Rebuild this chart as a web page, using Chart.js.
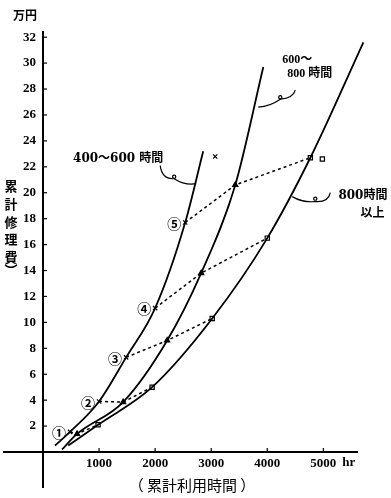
<!DOCTYPE html>
<html><head><meta charset="utf-8">
<script src="https://cdn.jsdelivr.net/npm/chart.js@4.4.1/dist/chart.umd.min.js"></script>
<style>html,body{margin:0;padding:0;background:#fff}</style>
</head><body>
<canvas id="c" width="391" height="498"></canvas>
<script>
// ---- data (hours, 万円) ----
const xTicks = [1000, 2000, 3000, 4000, 5000];
const yTicks = [2, 4, 6, 8, 10, 12, 14, 16, 18, 20, 22, 24, 26, 28, 30, 32];

const curveA_hours = [214, 482, 1000, 1482, 2000, 2536, 2857];      // 400〜600 時間
const curveA_cost  = [0.5, 1.55, 3.9, 7.3, 11.1, 17.7, 23.2];
const curveB_hours = [340, 607, 1429, 2214, 2821, 3429, 3929];       // 600〜800 時間
const curveB_cost  = [0.2, 1.4, 3.85, 8.6, 13.8, 20.6, 29.7];
const curveC_hours = [450, 982, 1946, 3018, 4000, 4768, 5714];       // 800 時間以上
const curveC_cost  = [0.5, 2.1, 5.0, 10.3, 16.5, 22.7, 31.6];

// connector lines ①〜⑤ : points on curve A, B, C
const connLabels = ['①', '②', '③', '④', '⑤'];
const connHours = [[482, 607, 982], [1000, 1429, 1946], [1482, 2214, 3018], [2000, 2821, 4000], [2536, 3429, 4768]];
const connCost  = [[1.55, 1.4, 2.1], [3.9, 3.85, 5.0], [7.3, 8.6, 10.3], [11.1, 13.8, 16.5], [17.7, 20.6, 22.7]];

// key markers (x for 400〜600, □ for 800以上)
const keyHours = [3071, 4982];
const keyCost  = [22.8, 22.6];

const pts = (xs, ys) => xs.map((x, i) => ({x, y: ys[i]}));

const datasets = [];
[[curveA_hours, curveA_cost], [curveB_hours, curveB_cost], [curveC_hours, curveC_cost]].forEach(([h, c]) => {
  datasets.push({data: pts(h, c), borderColor: '#000', borderWidth: 1.8, pointRadius: 0,
    cubicInterpolationMode: 'monotone', clip: false, fill: false});
});
connHours.forEach((h, i) => {
  datasets.push({data: pts(h, connCost[i]), borderColor: '#000', borderWidth: 1.5, borderDash: [3, 3],
    pointRadius: 3, pointStyle: ['crossRot', 'triangle', 'rect'], pointBorderColor: '#000',
    pointBackgroundColor: ['#000', '#000', '#fff'], pointBorderWidth: 1.2, clip: false, fill: false, tension: 0});
});
datasets.push({data: pts(keyHours, keyCost), showLine: false, pointRadius: 3,
  pointStyle: ['crossRot', 'rect'], pointBorderColor: '#000', pointBackgroundColor: '#fff', pointBorderWidth: 1.2, clip: false});

const tickFont = {family: '"Liberation Serif", serif', weight: 'bold', size: 13};

const deco = {
  id: 'deco',
  afterDraw(chart) {
    const {ctx, scales: {x, y}} = chart;
    const X = v => x.getPixelForValue(v), Y = v => y.getPixelForValue(v);
    ctx.save();
    ctx.strokeStyle = '#000'; ctx.fillStyle = '#000';
    // axis extensions
    ctx.lineWidth = 2;
    ctx.beginPath(); ctx.moveTo(3, Y(0)); ctx.lineTo(X(0), Y(0)); ctx.stroke();
    ctx.beginPath(); ctx.moveTo(X(0), Y(0)); ctx.lineTo(X(0), 488); ctx.stroke();
    // tick marks (inward)
    ctx.lineWidth = 1.2;
    yTicks.forEach(v => { ctx.beginPath(); ctx.moveTo(X(0), Y(v)); ctx.lineTo(X(0) + 4, Y(v)); ctx.stroke(); });
    xTicks.forEach(v => { ctx.beginPath(); ctx.moveTo(X(v), Y(0)); ctx.lineTo(X(v), Y(0) - 4); ctx.stroke(); });
    // hr unit
    ctx.font = 'bold 13px "Liberation Serif"'; ctx.textBaseline = 'middle'; ctx.textAlign = 'left';
    ctx.fillText('hr', X(5000) + 19, Y(0) + 11);
    // titles
    ctx.font = 'bold 12px "Noto Sans CJK JP"'; ctx.textAlign = 'center';
    ctx.fillText('万円', 25, 15);
    const vt = ['累', '計', '修', '理', '費'];
    ctx.font = 'bold 13px "Noto Sans CJK JP"';
    vt.forEach((ch, i) => ctx.fillText(ch, 11, 186 + i * 17.8));
    ctx.fillText('︶', 11, 270);
    ctx.font = '15px "Noto Sans CJK JP"';
    ctx.fillText('（ 累計利用時間 ）', 192, 485);
    // circled numbers
    ctx.font = 'bold 14px "Noto Sans CJK JP"'; ctx.textAlign = 'center';
    connLabels.forEach((s, i) => ctx.fillText(s, X(connHours[i][0]) - 11, Y(connCost[i][0]) + 1));
    // curve labels
    ctx.textAlign = 'left';
    ctx.font = 'bold 12px "DejaVu Serif", "Noto Sans CJK JP"';
    ctx.fillText('400〜600 時間', X(536), Y(22.6));
    ctx.fillText('800時間', X(5268), Y(19.75));
    ctx.fillText('以上', X(5661), Y(18.4));
    ctx.font = 'bold 12px "Liberation Serif", "Noto Sans CJK JP"';
    ctx.fillText('600〜', X(4268), Y(30.25));
    ctx.fillText('800 時間', X(4357), Y(29.2));
    // leaders
    ctx.lineWidth = 1.2;
    const leader = (ax, ay, segs, hook) => {
      const bx = X(ax), by = Y(ay);
      ctx.beginPath();
      ctx.moveTo(bx + segs[0][0], by + segs[0][1]);
      ctx.quadraticCurveTo(bx + segs[1][0], by + segs[1][1], bx + segs[2][0], by + segs[2][1]);
      ctx.quadraticCurveTo(bx + segs[3][0], by + segs[3][1], bx, by);
      ctx.stroke();
      ctx.beginPath(); ctx.arc(bx + hook[0], by + hook[1], 1.6, 0, Math.PI * 2); ctx.stroke();
    };
    leader(2732, 20.7, [[-36, -18], [-34, -4], [-22, -5], [-11, 2]], [-22, -7]);
    leader(3839, 26.6, [[37, -17], [35, -9], [22, -8], [12, -1]], [22, -10]);
    leader(4446, 19.7, [[38, -4], [36, 6], [23, 5], [10, 6]], [23, 2]);
    ctx.restore();
  }
};

new Chart(document.getElementById('c'), {
  type: 'line',
  data: {datasets},
  options: {
    responsive: false, animation: false, devicePixelRatio: 1,
    layout: {padding: {top: 32, right: 34, bottom: 0, left: 0}},
    plugins: {legend: {display: false}, tooltip: {enabled: false}},
    scales: {
      x: {type: 'linear', position: 'bottom', min: 0, max: 5600,
        afterFit: s => { s.height = 46; },
        afterBuildTicks: s => { s.ticks = xTicks.map(v => ({value: v})); },
        grid: {display: false, drawTicks: false},
        border: {display: true, color: '#000', width: 2},
        ticks: {font: tickFont, color: '#000', padding: 4, maxRotation: 0, autoSkip: false,
          callback: v => String(v)}},
      y: {type: 'linear', position: 'left', min: 0, max: 32.4,
        afterFit: s => { s.width = 43; },
        afterBuildTicks: s => { s.ticks = yTicks.map(v => ({value: v})); },
        grid: {display: false, drawTicks: false},
        border: {display: true, color: '#000', width: 2},
        ticks: {font: tickFont, color: '#000', padding: 7, autoSkip: false,
          callback: v => String(v)}}
    }
  },
  plugins: [deco]
});
</script>
</body></html>
